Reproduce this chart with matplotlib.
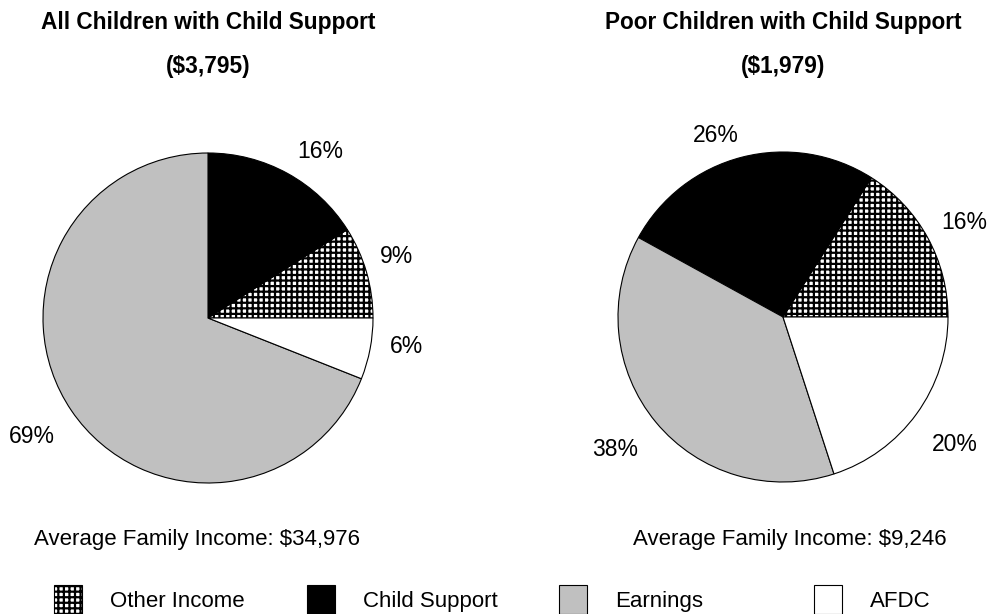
import matplotlib
matplotlib.use("Agg")
import matplotlib.pyplot as plt

plt.rcParams["font.family"] = ["Liberation Sans", "DejaVu Sans"]
plt.rcParams["hatch.linewidth"] = 1.6

categories = ["Other Income", "Child Support", "Earnings", "AFDC"]
colors     = ["white", "black", "#c0c0c0", "white"]
hatches    = ["+++", "", "", ""]

all_share  = [9, 16, 69, 6]
poor_share = [16, 26, 38, 20]

titles  = ["All Children with Child Support", "Poor Children with Child Support"]
amounts = ["($3,795)", "($1,979)"]
incomes = ["Average Family Income: $34,976", "Average Family Income: $9,246"]

# where the percent labels sit, in pie-radius units (layout only)
label_pos = [
    [(1.14, 0.37), (0.68, 1.01), (-1.07, -0.72), (1.20, -0.17)],
    [(1.10, 0.57), (-0.41, 1.10), (-1.02, -0.80), (1.04, -0.77)],
]

W, H = 989, 614
fig = plt.figure(figsize=(W / 100, H / 100), dpi=100)

R = 165
centres  = [(208, 318), (783, 317)]
income_x = [197, 790]
legend_x = [54, 307, 559, 814]

wedges_left = None
for i, (shares, (cx, cy)) in enumerate(zip([all_share, poor_share], centres)):
    ax = fig.add_axes([(cx - R) / W, (H - cy - R) / H, 2 * R / W, 2 * R / H])
    wedges, texts = ax.pie(shares, labels=[f"{v}%" for v in shares], colors=colors,
                           startangle=0, counterclock=True, labeldistance=1.2,
                           wedgeprops=dict(edgecolor="black", linewidth=0.8),
                           textprops=dict(fontsize=16.5))
    for w, h in zip(wedges, hatches):
        w.set_hatch(h)
    for t, pos in zip(texts, label_pos[i]):
        t.set_position(pos)
        t.set_horizontalalignment("center")
        t.set_verticalalignment("center")
    ax.set_xlim(-1, 1); ax.set_ylim(-1, 1)
    ax.set_aspect("equal")
    ax.axis("off")
    if wedges_left is None:
        wedges_left = wedges

    fig.text(cx / W, 1 - 22 / H, titles[i], ha="center", va="center",
             fontsize=16.3, fontweight="bold")
    fig.text(cx / W, 1 - 67 / H, amounts[i], ha="center", va="center",
             fontsize=16.3, fontweight="bold")
    fig.text(income_x[i] / W, 1 - 540 / H, incomes[i], ha="center", va="center",
             fontsize=16)

# one legend per entry so each sits where the original has it
for w, name, x in zip(wedges_left, categories, legend_x):
    fig.legend([w], [name], loc="upper left", bbox_to_anchor=(x / W, 1 - 585 / H),
               frameon=False, fontsize=16, borderpad=0, borderaxespad=0,
               handlelength=1.27, handleheight=1.6, handletextpad=1.25)

fig.savefig("out.png", dpi=100)
